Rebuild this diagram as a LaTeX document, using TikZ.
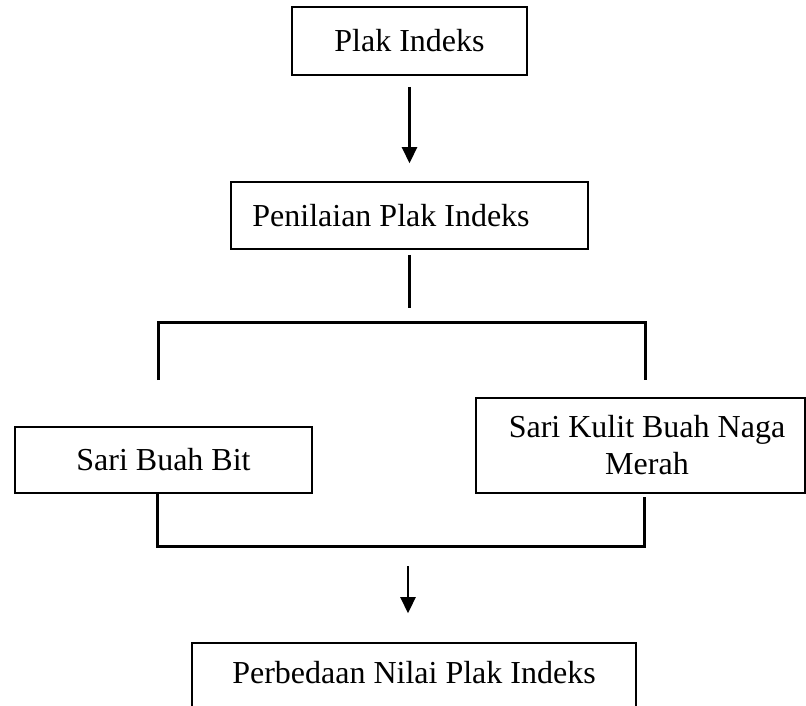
\documentclass[tikz,border=0pt]{standalone}
\usepackage{fontspec}
\setmainfont{Liberation Serif}
\usetikzlibrary{arrows.meta}
\begin{document}
\begin{tikzpicture}[x=1pt,y=-1pt,
  box/.style={draw,line width=1.6pt,inner sep=0pt,font=\fontsize{32}{37}\selectfont},
  conn/.style={line width=3pt},
  arr/.style={line width=2.6pt,-{Triangle[length=16pt,width=15pt]}}]
\useasboundingbox (0,0) rectangle (806,706);
\clip (0,0) rectangle (806,706);
\node[box,minimum width=235pt,minimum height=68pt] (plak) at (409.5,41) {Plak Indeks};
\node[box,minimum width=357pt,minimum height=67pt] (nilai) at (409.5,215.5) {Penilaian Plak Indeks\hspace*{37pt}};
\node[box,minimum width=297pt,minimum height=66pt] (bit) at (163.5,460) {Sari Buah Bit};
\node[box,minimum width=329pt,minimum height=95pt,align=center] (naga) at (640.5,445.5) {\hspace*{13pt}Sari Kulit Buah Naga\\\hspace*{13pt}Merah};
\node[box,minimum width=444pt,minimum height=94pt,text depth=36pt] (beda) at (414,690) {Perbedaan Nilai Plak Indeks};
% top arrow
\draw[arr,shorten <=11pt,shorten >=18pt] (plak.south) -- (nilai.north);
% split
\coordinate (s0) at (409.5,308);
\coordinate (sl) at (158,322);
\coordinate (sr) at (645,322);
\coordinate (sle) at (158,380);
\coordinate (sre) at (645,380);
\draw[conn,shorten <=5pt] (nilai.south) -- (s0);
\draw[conn] (sle) -- (sl) -- (sr) -- (sre);
% merge
\coordinate (ml) at (157,546);
\coordinate (mr) at (644,546);
\coordinate (mrt) at (644,497);
\draw[conn] (bit.south -| ml) -- (ml) -- (mr) -- (mrt);
% bottom arrow
\coordinate (a0) at (408,566);
\draw[arr,shorten >=29pt] (a0) -- (a0 |- beda.north);
\end{tikzpicture}
\end{document}
